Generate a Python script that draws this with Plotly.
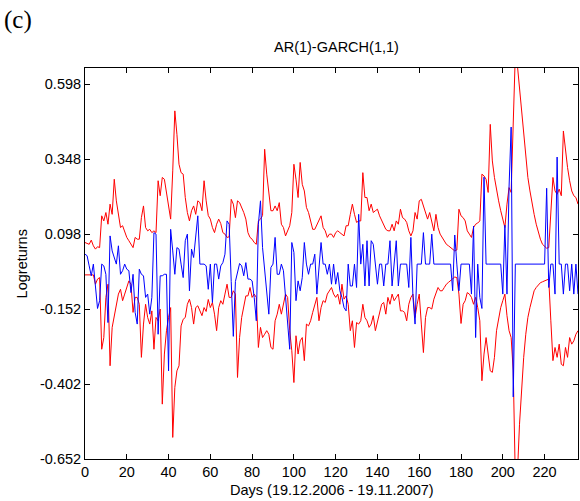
import plotly.graph_objects as go

# Upper confidence band (red), days 0..236
upper = [
    0.070, 0.067, 0.064, 0.078, 0.059, 0.048, 0.056, 0.053, 0.159, 0.142,
    0.170, 0.131, 0.198, 0.164, 0.281, 0.209, 0.164, 0.120, 0.126, 0.103,
    0.087, 0.076, 0.064, 0.053, 0.087, 0.081, 0.081, 0.153, 0.192, 0.120,
    0.109, 0.114, 0.103, 0.109, 0.103, 0.276, 0.226, 0.287, 0.281, 0.231,
    0.187, 0.148, 0.309, 0.509, 0.431, 0.331, 0.303, 0.298, 0.220, 0.170,
    0.142, 0.176, 0.192, 0.164, 0.209, 0.203, 0.176, 0.276, 0.209, 0.160,
    0.148, 0.120, 0.103, 0.131, 0.148, 0.133, 0.103, 0.098, 0.087, 0.089,
    0.214, 0.198, 0.153, 0.209, 0.203, 0.187, 0.170, 0.148, 0.103, 0.087,
    0.081, 0.070, 0.064, 0.142, 0.148, 0.160, 0.381, 0.298, 0.231, 0.176,
    0.176, 0.192, 0.176, 0.203, 0.131, 0.120, 0.092, 0.109, 0.126, 0.170,
    0.331, 0.281, 0.220, 0.337, 0.264, 0.242, 0.187, 0.170, 0.142, 0.114,
    0.114, 0.131, 0.142, 0.159, 0.120, 0.109, 0.087, 0.098, 0.098, 0.087,
    0.103, 0.109, 0.103, 0.098, 0.092, 0.126, 0.126, 0.164, 0.198, 0.164,
    0.137, 0.142, 0.142, 0.303, 0.220, 0.220, 0.176, 0.198, 0.170, 0.176,
    0.181, 0.159, 0.142, 0.131, 0.114, 0.109, 0.109, 0.131, 0.109, 0.142,
    0.131, 0.181, 0.153, 0.148, 0.137, 0.109, 0.092, 0.109, 0.170, 0.148,
    0.209, 0.214, 0.192, 0.176, 0.148, 0.170, 0.137, 0.109, 0.164, 0.120,
    0.098, 0.087, 0.076, 0.064, 0.059, 0.053, 0.048, 0.042, 0.045, 0.181,
    0.159, 0.153, 0.142, 0.109, 0.098, 0.087, 0.120, 0.131, 0.135, 0.142,
    0.298, 0.292, 0.281, 0.237, 0.464, 0.342, 0.287, 0.242, 0.209, 0.176,
    0.148, 0.120, 0.198, 0.253, 0.237, 0.476, 0.700, 0.660, 0.587, 0.509,
    0.420, 0.342, 0.287, 0.242, 0.198, 0.164, 0.131, 0.103, 0.081, 0.064,
    0.056, 0.051, 0.053, 0.159, 0.287, 0.242, 0.231, 0.248, 0.226, 0.442,
    0.376, 0.320, 0.276, 0.242, 0.226, 0.220, 0.198,
]

# Lower confidence band (red)
lower = [
    -0.038, -0.038, -0.038, -0.036, -0.038, -0.069, -0.052, -0.047, -0.286, -0.247,
    -0.113, -0.069, -0.341, -0.213, -0.174, -0.136, -0.102, -0.086, -0.124, -0.102,
    -0.080, -0.058, -0.069, -0.163, -0.113, -0.113, -0.136, -0.313, -0.202, -0.136,
    -0.180, -0.202, -0.158, -0.286, -0.180, -0.191, -0.152, -0.469, -0.302, -0.224,
    -0.180, -0.147, -0.580, -0.413, -0.358, -0.341, -0.208, -0.186, -0.180, -0.136,
    -0.119, -0.147, -0.202, -0.147, -0.141, -0.158, -0.174, -0.147, -0.160, -0.120,
    -0.147, -0.130, -0.169, -0.224, -0.147, -0.124, -0.136, -0.102, -0.069, -0.113,
    -0.113, -0.091, -0.102, -0.380, -0.247, -0.180, -0.136, -0.108, -0.108, -0.080,
    -0.113, -0.102, -0.113, -0.280, -0.213, -0.247, -0.236, -0.224, -0.236, -0.280,
    -0.286, -0.191, -0.169, -0.136, -0.169, -0.136, -0.102, -0.113, -0.224, -0.291,
    -0.397, -0.241, -0.302, -0.258, -0.247, -0.324, -0.202, -0.208, -0.191, -0.163,
    -0.136, -0.113, -0.191, -0.147, -0.124, -0.130, -0.102, -0.091, -0.080, -0.102,
    -0.113, -0.102, -0.136, -0.069, -0.119, -0.108, -0.136, -0.224, -0.191, -0.280,
    -0.197, -0.202, -0.191, -0.136, -0.180, -0.191, -0.213, -0.202, -0.174, -0.224,
    -0.191, -0.158, -0.136, -0.130, -0.169, -0.113, -0.136, -0.102, -0.124, -0.113,
    -0.102, -0.158, -0.158, -0.163, -0.191, -0.136, -0.113, -0.102, -0.180, -0.136,
    -0.102, -0.202, -0.297, -0.180, -0.147, -0.147, -0.152, -0.119, -0.102, -0.080,
    -0.091, -0.091, -0.080, -0.069, -0.063, -0.056, -0.049, -0.045, -0.047, -0.102,
    -0.200, -0.136, -0.124, -0.097, -0.102, -0.113, -0.136, -0.113, -0.147, -0.191,
    -0.391, -0.302, -0.247, -0.313, -0.358, -0.363, -0.313, -0.224, -0.180, -0.147,
    -0.124, -0.102, -0.174, -0.224, -0.247, -0.358, -0.720, -0.700, -0.536, -0.402,
    -0.313, -0.236, -0.180, -0.147, -0.113, -0.091, -0.080, -0.071, -0.064, -0.061,
    -0.058, -0.056, -0.052, -0.191, -0.324, -0.280, -0.313, -0.269, -0.336, -0.341,
    -0.280, -0.313, -0.247, -0.269, -0.258, -0.236, -0.224,
]

# Observed log returns (blue)
logreturns = [
    0.031, 0.026, -0.008, -0.041, -0.002, -0.069, -0.150, -0.124, -0.002, -0.008,
    -0.036, -0.197, 0.092, 0.042, 0.020, -0.002, 0.059, -0.036, -0.024, -0.002,
    -0.019, -0.024, -0.097, -0.036, -0.163, -0.202, -0.019, -0.036, -0.041, -0.113,
    -0.102, -0.169, -0.113, 0.103, 0.098, -0.236, -0.041, -0.041, -0.036, -0.036,
    -0.358, 0.114, 0.042, -0.036, 0.053, 0.048, -0.002, -0.047, 0.076, 0.098,
    -0.091, 0.048, 0.020, 0.081, 0.159, -0.002, -0.002, -0.002, -0.008, -0.086,
    -0.002, -0.130, -0.002, -0.002, -0.052, -0.008, 0.003, 0.031, 0.142, 0.131,
    -0.060, -0.243, -0.060, -0.024, 0.000, -0.008, -0.041, 0.003, -0.052, -0.052,
    -0.058, -0.113, -0.191, 0.131, 0.209, 0.053, -0.024, -0.091, -0.169, -0.013,
    -0.002, 0.087, -0.036, -0.036, -0.002, -0.024, -0.102, -0.191, -0.286, 0.070,
    0.037, -0.124, -0.058, -0.091, -0.047, 0.070, -0.002, -0.036, -0.002, -0.002,
    0.031, -0.102, -0.024, 0.070, -0.002, -0.002, -0.036, -0.002, -0.069, -0.002,
    -0.069, -0.030, -0.091, -0.113, -0.147, -0.158, -0.002, -0.075, -0.075, -0.002,
    -0.080, 0.164, -0.002, 0.064, -0.075, 0.076, -0.075, 0.076, 0.064, -0.002,
    -0.069, -0.002, -0.002, -0.075, -0.002, -0.002, 0.076, -0.075, -0.002, 0.076,
    -0.075, -0.002, -0.002, -0.002, -0.002, -0.080, 0.087, -0.113, -0.202, -0.002,
    -0.002, -0.002, 0.103, -0.002, -0.002, -0.002, 0.098, -0.002, -0.002, -0.002,
    -0.002, -0.002, -0.002, -0.002, -0.002, -0.002, -0.091, 0.095, -0.002, -0.091,
    -0.002, -0.002, -0.002, -0.002, -0.002, -0.102, 0.125, -0.247, -0.002, -0.113,
    -0.150, 0.288, -0.002, -0.002, -0.002, -0.002, -0.002, -0.002, -0.002, -0.002,
    -0.102, 0.128, -0.102, 0.255, 0.455, -0.445, -0.002, -0.002, -0.002, -0.002,
    -0.002, -0.002, -0.002, -0.002, -0.002, -0.002, -0.002, -0.002, -0.002, -0.002,
    -0.002, 0.251, -0.080, -0.002, -0.002, -0.102, 0.355, -0.002, -0.002, -0.102,
    -0.002, -0.002, -0.091, -0.002, -0.102, -0.002, -0.102,
]

days = list(range(len(logreturns)))

y_tickvals = [-0.652, -0.402, -0.152, 0.098, 0.348, 0.598]
y_ticktext = ["-0.652", "-0.402", "-0.152", "0.098", "0.348", "0.598"]
x_tickvals = [0, 20, 40, 60, 80, 100, 120, 140, 160, 180, 200, 220]

FONT = "Liberation Sans, Arial, sans-serif"

fig = go.Figure()
fig.add_trace(go.Scatter(x=days, y=upper, mode="lines",
                         line=dict(color="#ff0000", width=1), showlegend=False))
fig.add_trace(go.Scatter(x=days, y=lower, mode="lines",
                         line=dict(color="#ff0000", width=1), showlegend=False))
fig.add_trace(go.Scatter(x=days, y=logreturns, mode="lines",
                         line=dict(color="#0000ff", width=1), showlegend=False))

axis_common = dict(showline=True, linecolor="black", linewidth=1, mirror="ticks",
                   ticks="inside", ticklen=5, tickcolor="black", showgrid=False,
                   zeroline=False, tickfont=dict(family=FONT, size=14.5, color="black"))

fig.update_xaxes(range=[0, len(days) - 1], tickvals=x_tickvals, **axis_common)
fig.update_yaxes(range=[-0.652, 0.652], tickvals=y_tickvals, ticktext=y_ticktext,
                 **axis_common)

fig.update_layout(
    width=580, height=501,
    margin=dict(l=85, r=2, t=68, b=42),
    paper_bgcolor="white", plot_bgcolor="white",
    annotations=[
        dict(text="AR(1)-GARCH(1,1)", x=0.511, y=1.054, xref="paper", yref="paper",
             xanchor="center", yanchor="middle", showarrow=False,
             font=dict(family=FONT, size=14.5, color="black")),
        dict(text="Days (19.12.2006 - 19.11.2007)", x=0.5, y=-0.079,
             xref="paper", yref="paper", xanchor="center", yanchor="middle",
             showarrow=False, font=dict(family=FONT, size=14.5, color="black")),
        dict(text="Logreturns", x=-0.128, y=0.5, xref="paper", yref="paper",
             xanchor="center", yanchor="middle", textangle=-90, showarrow=False,
             font=dict(family=FONT, size=14.5, color="black")),
        dict(text="(c)", x=-0.168, y=1.123, xref="paper", yref="paper",
             xanchor="left", yanchor="middle", showarrow=False,
             font=dict(family="Liberation Serif, Times New Roman, serif", size=25,
                       color="black")),
    ],
)

fig.write_html("out.html")
